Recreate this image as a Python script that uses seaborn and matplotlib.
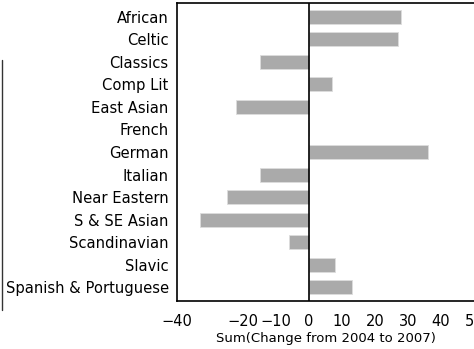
import matplotlib
matplotlib.use("Agg")
import matplotlib.pyplot as plt
import seaborn as sns
import pandas as pd
from matplotlib.lines import Line2D

categories = ["African", "Celtic", "Classics", "Comp Lit", "East Asian", "French",
              "German", "Italian", "Near Eastern", "S & SE Asian", "Scandinavian",
              "Slavic", "Spanish & Portuguese"]
values = [28, 27, -15, 7, -22, 0, 36, -15, -25, -33, -6, 8, 13]
xticks = [-40, -30, -20, -10, 0, 10, 20, 30, 40, 50]
xticklabels = ["\u221240", "", "\u221220", "\u221210", "0", "10", "20", "30", "40", "50"]

df = pd.DataFrame({"cat": categories, "val": values})

sns.set_style("white")
plt.rcParams["font.family"] = ["DejaVu Sans"]
plt.rcParams["text.color"] = "black"
plt.rcParams["xtick.color"] = "black"
plt.rcParams["ytick.color"] = "black"
plt.rcParams["axes.labelcolor"] = "black"

fig = plt.figure(figsize=(4.74, 3.49), dpi=100)
ax = fig.add_axes([177/474, 48/349, 1 - 177/474, 298/349])

sns.barplot(data=df, x="val", y="cat", orient="h", color="#aaaaaa",
            saturation=1, width=0.62, edgecolor="#dddddd", linewidth=0.6, ax=ax)

ax.axvline(0, color="black", lw=1.2)
ax.set_xlim(-40, 50)
ax.set_ylim(12.6, -0.6)
ax.set_xticks(xticks)
ax.set_xticklabels(xticklabels, fontsize=10.5)
ax.tick_params(axis="x", direction="out", length=6, width=1, colors="black", pad=3)
ax.tick_params(axis="y", length=0, labelsize=10.6, pad=6, colors="black")
ax.set_ylabel("")
ax.set_xlabel("Sum(Change from 2004 to 2007)", fontsize=9.5, labelpad=2.5, color="black")

for s in ["left", "top", "bottom"]:
    ax.spines[s].set_visible(True)
    ax.spines[s].set_color("black")
    ax.spines[s].set_linewidth(1.2)
ax.spines["right"].set_visible(False)

fig.add_artist(Line2D([1.5/474, 1.5/474], [1 - 60/349, 1 - 310/349],
                      transform=fig.transFigure, color="#333333", lw=1))

fig.savefig("out.png", dpi=100)
